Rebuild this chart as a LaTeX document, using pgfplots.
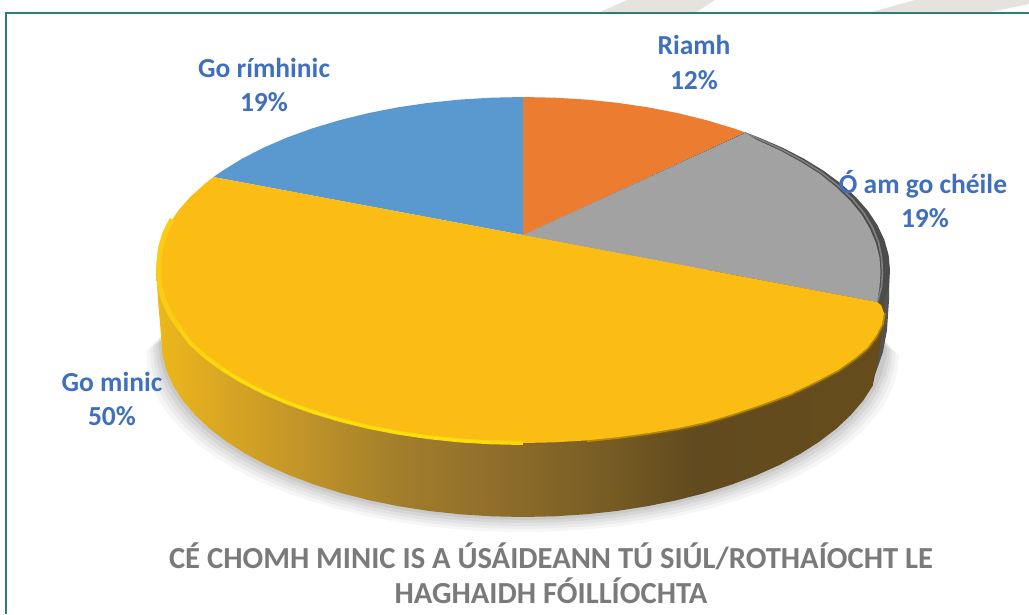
\documentclass[border=0pt]{standalone}
\usepackage{pgfplots}
\usepackage{pgfplotstable}
\pgfplotsset{compat=1.18}
\usepackage{fontspec}
\setmainfont{Carlito}
\definecolor{cBlue}{HTML}{5A98D0}
\definecolor{cOrange}{HTML}{EC7C30}
\definecolor{cGray}{HTML}{A2A2A2}
\definecolor{cYellow}{HTML}{FBBD14}
\definecolor{cLabel}{HTML}{4070BC}
\definecolor{cTitle}{HTML}{7A7A7A}
\definecolor{cFrame}{HTML}{2F7F70}
\definecolor{cStripe}{HTML}{E6E3DE}
\pgfdeclarehorizontalshading{wallshade}{100bp}{
 rgb(0bp)=(0.93,0.72,0.10);
 rgb(25bp)=(0.93,0.72,0.10);
 rgb(29bp)=(0.86,0.66,0.13);
 rgb(35bp)=(0.76,0.58,0.16);
 rgb(42bp)=(0.63,0.49,0.17);
 rgb(48.5bp)=(0.56,0.43,0.17);
 rgb(55bp)=(0.48,0.37,0.14);
 rgb(62bp)=(0.38,0.29,0.12);
 rgb(75bp)=(0.40,0.30,0.11);
 rgb(100bp)=(0.40,0.30,0.11)}
\pgfplotstableread{
x y
220.0 300.0
161.0 335.0
162.4 355.4
166.5 370.7
173.3 385.8
182.8 400.5
195.0 414.8
209.5 428.5
226.5 441.5
245.7 453.8
267.0 465.2
290.3 475.6
315.5 485.0
342.0 493.3
370.0 500.4
399.2 506.3
429.3 511.0
460.1 514.3
491.4 516.3
523.0 517.0
554.6 516.3
585.9 514.3
616.7 511.0
646.8 506.3
676.0 500.4
704.0 493.3
730.5 485.0
755.7 475.6
779.0 465.2
800.3 453.8
819.5 441.5
836.5 428.5
851.0 414.8
863.2 400.5
872.7 385.8
879.5 370.7
883.6 355.4
885.0 340.0
826.0 300.0
}\lowerrim
\pgfplotstableread{
x y
586.7 440.4
618.0 437.1
648.5 433.0
678.1 428.0
706.0 422.0
733.0 414.0
763.0 404.0
790.0 394.0
815.0 382.0
838.0 370.0
855.0 358.0
867.0 348.0
876.0 336.0
882.0 324.0
884.0 313.0
}\rightrim
\begin{document}
\begin{tikzpicture}
\begin{axis}[
  scale only axis, width=1029pt, height=614pt,
  xmin=0, xmax=1029, ymin=0, ymax=614, y dir=reverse,
  hide axis, clip=true]
% white page, fixes the picture's extent
\addplot[fill=white, draw=none] coordinates {(0,0)(1029,0)(1029,614)(0,614)} -- cycle;
% page background stripes
\addplot[fill=cStripe, draw=none] coordinates {(598,13)(627,0)(715,0)(695,13)} -- cycle;
\addplot[fill=cStripe, draw=none] coordinates {(868,13)(915,0)(1029,0)(1029,4)(985,13)} -- cycle;
% frame
\addplot[draw=cFrame, line width=1.8pt] coordinates {(6,614)(6,13)(1029,13)};
% soft shadow
\addplot[fill=black, draw=none, opacity=0.035] table[x expr=530+(\thisrow{x}-530)*1.04, y expr=\thisrow{y}+15] {\lowerrim} -- cycle;
\addplot[fill=black, draw=none, opacity=0.04] table[x expr=530+(\thisrow{x}-530)*1.03, y expr=\thisrow{y}+12] {\lowerrim} -- cycle;
\addplot[fill=black, draw=none, opacity=0.04] table[x expr=530+(\thisrow{x}-530)*1.022, y expr=\thisrow{y}+9] {\lowerrim} -- cycle;
\addplot[fill=black, draw=none, opacity=0.05] table[x expr=530+(\thisrow{x}-530)*1.015, y expr=\thisrow{y}+6] {\lowerrim} -- cycle;
\addplot[fill=black, draw=none, opacity=0.06] table[x expr=530+(\thisrow{x}-530)*1.007, y expr=\thisrow{y}+3] {\lowerrim} -- cycle;
% grey wall sliver on the right
\addplot[fill=black!68, draw=none] coordinates {(884,262)(889,275)(889,300)(887,330)(883,352)(876,372)(866,392)(860,390)(870,340)(875,305)(878,300)} -- cycle;
% main wall
\addplot[shading=wallshade, draw=none] coordinates {
(156,270)(158,300)(161,335)(162.4,355.4)(166.5,370.7)(173.3,385.8)(182.8,400.5)(195.0,414.8)(209.5,428.5)(226.5,441.5)(245.7,453.8)(267.0,465.2)(290.3,475.6)(315.5,485.0)(342.0,493.3)(370.0,500.4)(399.2,506.3)(429.3,511.0)(460.1,514.3)(491.4,516.3)(523.0,517.0)(554.6,516.3)(585.9,514.3)(616.7,511.0)(646.8,506.3)(676.0,500.4)(704.0,493.3)(730.5,485.0)(755.7,475.6)(779.0,465.2)(800.3,453.8)(819.5,441.5)(836.5,428.5)(851.0,414.8)(863.2,400.5)(872.7,385.8)(877,365)(881,340)(884,313)(884,270)
} -- cycle;
% blurred top edge of the wall on the right
\addplot[draw=cYellow!50!black, opacity=0.5, line width=7pt] table[x=x,y=y] {\rightrim};
\addplot[draw=cYellow!80!black, opacity=0.75, line width=3.5pt] table[x=x,y=y] {\rightrim};
% dark rim beneath the grey face
\addplot[fill=black!70, draw=none] coordinates {
(523,235)(745.0,132.3)(758.9,137.5)(782.5,147.7)(804.1,158.8)(823.6,170.8)(840.8,183.5)(855.6,196.9)(867.9,210.8)(877.5,225.2)(884.4,240.0)(888.6,254.9)(890,270)(889,287)(883,303)(878,302)} -- cycle;
% Riamh 12 %
\addplot[fill=cOrange, draw=none] coordinates {
(523,235)(523,97)(555.0,97.7)(586.7,99.6)(618.0,102.9)(648.5,107.4)(678.1,113.2)(706.5,120.2)(733.5,128.3)(745.0,132.3)} -- cycle;
% O am go cheile 19 %
\addplot[draw=black!50, line width=1.6pt, line join=round] coordinates {
(745.0,133)(758,138.5)(781,149)(802.5,160.5)(821.5,172.5)(838,185.5)(852.5,199)(864,213)(872.5,227.5)(878.5,242)(881.5,257)(882.5,272)(881.5,287)(877.5,302)};
\addplot[fill=cGray, draw=none] coordinates {
(523,235)(745.0,133)(757,140)(780,150.5)(801,162)(820,174)(836,187)(850,200.5)(861.5,214.5)(870,229)(876,243.5)(879.5,258)(880.5,272)(879.5,287)(877,302)} -- cycle;
% Go rimhinic 19 %
\addplot[fill=cBlue, draw=none] coordinates {
(523,235)(213.5,177.0)(222.4,170.8)(241.9,158.8)(263.5,147.7)(287.1,137.5)(312.5,128.3)(339.5,120.2)(367.9,113.2)(397.5,107.4)(428.0,102.9)(459.3,99.6)(491.0,97.7)(523,97)} -- cycle;
% Go minic 50 %
\addplot[fill=cYellow, draw=none] coordinates {
(523,235)(213.5,177.0)(205.2,183.5)(190.4,196.9)(178.1,210.8)(168.5,225.2)(161.6,240.0)(157.4,254.9)(156,270)(157.4,285.1)(161.6,300.0)(168.5,314.8)(178.1,329.2)(190.4,343.1)(205.2,356.5)(222.4,369.2)(241.9,381.2)(263.5,392.3)(287.1,402.5)(312.5,411.7)(339.5,419.8)(367.9,426.8)(397.5,432.6)(428.0,437.1)(459.3,440.4)(491.0,442.3)(523,443)(555.0,442.3)(586.7,440.4)(618.0,437.1)(648.5,433)(678.1,428)(706,422)(733,414)(763,404)(790,394)(815,382)(838,370)(855,358)(867,348)(876,336)(882,324)(884,313)(881,305)(877,302)} -- cycle;
% bright rim on the left
\addplot[draw=yellow!30!cYellow, line width=5pt] coordinates {(172,219)(165,233)(160.5,248)(159,262)(159.5,285.1)(163.6,300.0)(170.5,314.8)(180.1,329.2)};
\addplot[draw=yellow!45!cYellow, line width=4pt] coordinates {(180.1,329.2)(190.4,343.1)(205.2,356.5)(222.4,369.2)(241.9,381.2)(263.5,392.3)(287.1,402.5)(312.5,411.7)(339.5,419.8)(367.9,426.8)(397.5,432.6)(428.0,437.1)(459.3,440.4)(491.0,442.3)(523.0,443.0)};
\addplot[draw=yellow!70!cYellow, line width=2pt] coordinates {(222.4,369.2)(241.9,381.2)(263.5,392.3)(287.1,402.5)(312.5,411.7)(339.5,419.8)(367.9,426.8)(397.5,432.6)(428.0,437.1)(459.3,440.4)(491.0,442.3)};
% labels
\node[text=cLabel, font=\bfseries\fontsize{27.5}{27.5}\selectfont] at (axis cs:694,45) {Riamh};
\node[text=cLabel, font=\bfseries\fontsize{27.5}{27.5}\selectfont] at (axis cs:694,80) {12\%};
\node[text=cLabel, font=\bfseries\fontsize{27.5}{27.5}\selectfont] at (axis cs:264,68) {Go rímhinic};
\node[text=cLabel, font=\bfseries\fontsize{27.5}{27.5}\selectfont] at (axis cs:264,102) {19\%};
\node[text=cLabel, font=\bfseries\fontsize{27.5}{27.5}\selectfont] at (axis cs:923,184) {Ó am go chéile};
\node[text=cLabel, font=\bfseries\fontsize{27.5}{27.5}\selectfont] at (axis cs:925,218) {19\%};
\node[text=cLabel, font=\bfseries\fontsize{27.5}{27.5}\selectfont] at (axis cs:112,382) {Go minic};
\node[text=cLabel, font=\bfseries\fontsize{27.5}{27.5}\selectfont] at (axis cs:112,416) {50\%};
\node[text=cTitle, font=\bfseries\fontsize{30.6}{30.6}\selectfont] at (axis cs:551,556) {CÉ CHOMH MINIC IS A ÚSÁIDEANN TÚ SIÚL/ROTHAÍOCHT LE};
\node[text=cTitle, font=\bfseries\fontsize{30.6}{30.6}\selectfont] at (axis cs:551,591) {HAGHAIDH FÓILLÍOCHTA};
\end{axis}
\end{tikzpicture}
\end{document}
